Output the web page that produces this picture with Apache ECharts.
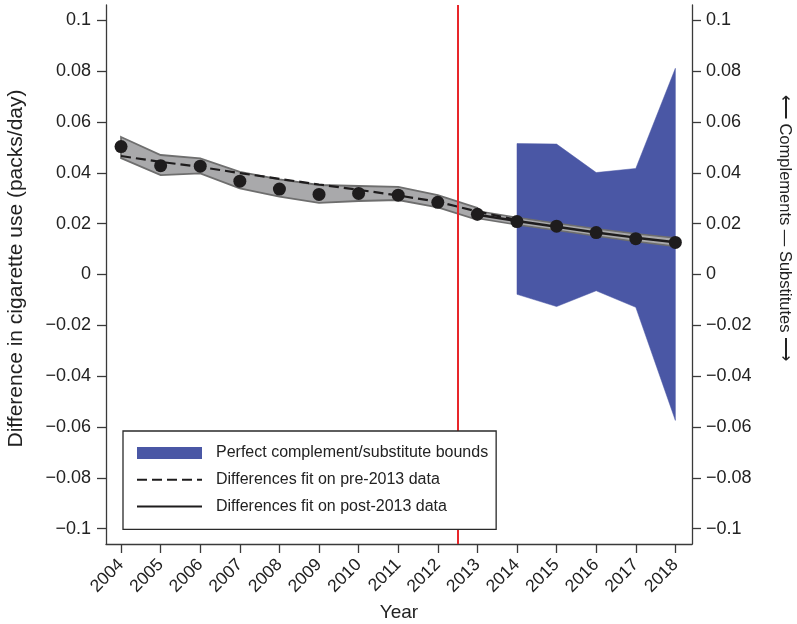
<!DOCTYPE html>
<html><head><meta charset="utf-8">
<script src="https://cdn.jsdelivr.net/npm/echarts@6/dist/echarts.min.js"></script>
<style>html,body{margin:0;padding:0;background:#fff}#c{width:797px;height:624px}</style>
</head><body><div id="c"></div>
<script>
// ---- data ----
const years = [2004, 2005, 2006, 2007, 2008, 2009, 2010, 2011, 2012, 2013, 2014, 2015, 2016, 2017, 2018];
const actualDiff = [0.0503, 0.0428, 0.0426, 0.0367, 0.0336, 0.0315, 0.0319, 0.0312, 0.0284, 0.0237, 0.0208, 0.0190, 0.0165, 0.0141, 0.0126];

const preFitYears = [2004, 2005, 2006, 2007, 2008, 2009, 2010, 2011, 2012, 2013, 2014];
const preFit = [0.0466, 0.0443, 0.0423, 0.0399, 0.0376, 0.0354, 0.0333, 0.0311, 0.0286, 0.0248, 0.0214];

const preBandYears = [2004, 2005, 2006, 2007, 2008, 2009, 2010, 2011, 2012, 2013];
const preBandUpper = [0.0541, 0.0470, 0.0457, 0.0404, 0.0374, 0.0352, 0.0348, 0.0345, 0.0312, 0.0262];
const preBandLower = [0.0458, 0.0391, 0.0398, 0.0339, 0.0306, 0.0282, 0.0289, 0.0293, 0.0264, 0.0215];

const postYears = [2013, 2014, 2015, 2016, 2017, 2018];
const postFit = [0.0235, 0.0210, 0.0188, 0.0165, 0.0145, 0.0127];
const postBandUpper = [0.0250, 0.0224, 0.0202, 0.0180, 0.0160, 0.0144];
const postBandLower = [0.0221, 0.0196, 0.0174, 0.0151, 0.0130, 0.0111];

const boundYears = [2014, 2015, 2016, 2017, 2018];
const boundUpper = [0.0515, 0.0513, 0.0401, 0.0417, 0.0811];
const boundLower = [-0.0078, -0.0126, -0.0064, -0.0129, -0.0574];

const yTicks = [-0.1, -0.08, -0.06, -0.04, -0.02, 0, 0.02, 0.04, 0.06, 0.08, 0.1];
const treatmentLine = 2012.5;

const NAME_BOUNDS = 'Perfect complement/substitute bounds';
const NAME_PRE = 'Differences fit on pre-2013 data';
const NAME_POST = 'Differences fit on post-2013 data';

// ---- styling ----
const FONT = '"Liberation Sans", Arial, Helvetica, sans-serif';
const TXT = '#222';
const AX = '#3a3a3a';
const BLUE = '#4a57a5';
const GREY_FILL = '#a9a9ab';
const GREY_LINE = '#6e6e6e';
const INK = '#1e1c1d';

function fmtY(v) {
  const r = Number(v.toFixed(3));
  if (r === 0) return '0';
  return (r < 0 ? '\u2212' : '') + String(Math.abs(r));
}

function band(name, xs, up, lo, fill, stroke, lw, z) {
  return {
    type: 'custom', name: name, z: z, silent: true, animation: false,
    xAxisIndex: 0, yAxisIndex: 0,
    data: xs.map((x, i) => [x, up[i], lo[i]]),
    encode: { x: 0, y: [1, 2] },
    renderItem: function (params, api) {
      if (params.dataIndex !== 0) return null;
      const pts = [];
      for (let i = 0; i < xs.length; i++) pts.push(api.coord([xs[i], up[i]]));
      for (let i = xs.length - 1; i >= 0; i--) pts.push(api.coord([xs[i], lo[i]]));
      return { type: 'polygon', shape: { points: pts },
        style: { fill: fill, stroke: stroke, lineWidth: lw, lineJoin: 'miter' } };
    }
  };
}

const yAxisBase = {
  type: 'value', min: -0.106, max: 0.106,
  splitLine: { show: false },
  axisLine: { show: true, onZero: false, lineStyle: { color: AX, width: 1.3 } },
  axisTick: { show: true, length: 9, customValues: yTicks, lineStyle: { color: AX, width: 1.3 } },
};

const chart = echarts.init(document.getElementById('c'), null, { renderer: 'canvas' });
chart.setOption({
  animation: false,
  backgroundColor: '#fff',
  textStyle: { fontFamily: FONT },
  grid: { left: 106, right: 105, top: 5, bottom: 80, containLabel: false, outerBoundsMode: 'none' },
  xAxis: {
    type: 'value', min: 2003.62, max: 2018.42,
    splitLine: { show: false },
    axisLine: { show: true, onZero: false, lineStyle: { color: AX, width: 1.3 } },
    axisTick: { show: true, length: 9, customValues: years, lineStyle: { color: AX, width: 1.3 } },
    axisLabel: { customValues: years, rotate: 45, margin: 18, padding: [12, 0, 0, 0], fontSize: 17.5, color: TXT, fontFamily: FONT,
      formatter: v => String(Math.round(v)) },
    name: 'Year', nameLocation: 'middle', nameGap: 53,
    nameTextStyle: { fontSize: 19, color: TXT, fontFamily: FONT }
  },
  yAxis: [
    Object.assign({}, yAxisBase, {
      position: 'left',
      axisLabel: { customValues: yTicks, margin: 15, fontSize: 18, color: TXT, fontFamily: FONT, formatter: fmtY },
      name: 'Difference in cigarette use (packs/day)', nameLocation: 'middle', nameGap: 79, nameRotate: 90,
      nameTextStyle: { fontSize: 21, color: TXT, fontFamily: FONT, padding: [0, 0, 0, 12] }
    }),
    Object.assign({}, yAxisBase, {
      position: 'right',
      axisLabel: { customValues: yTicks, margin: 14, fontSize: 18, color: TXT, fontFamily: FONT, formatter: fmtY }
    })
  ],
  legend: {
    orient: 'vertical', left: 123, top: 431,
    padding: [14, 8, 15, 13], itemGap: 10.7, itemWidth: 65, itemHeight: 12,
    backgroundColor: '#fff', borderColor: '#2a2a2a', borderWidth: 1.3, borderRadius: 0,
    textStyle: { fontFamily: FONT, fontSize: 16, color: TXT, padding: [0, 0, 0, 9], lineHeight: 16 },
    selectedMode: false, z: 10,
    data: [
      { name: NAME_BOUNDS, icon: 'rect', itemStyle: { color: BLUE } },
      { name: NAME_PRE, itemStyle: { opacity: 0 } },
      { name: NAME_POST, itemStyle: { opacity: 0 } }
    ]
  },
  graphic: [{
    type: 'text', x: 785, y: 228, rotation: -Math.PI / 2, z: 10,
    style: { text: '\u27F5 Complements \u2014 Substitutes \u27F6', fill: TXT,
      font: '16.5px ' + FONT, align: 'center', verticalAlign: 'middle' }
  }],
  series: [
    {
      type: 'line', name: 'treatment', z: 1, data: [], yAxisIndex: 0,
      markLine: { silent: true, symbol: ['none', 'none'], label: { show: false }, animation: false,
        lineStyle: { color: '#e8262a', width: 2, type: 'solid' },
        data: [{ xAxis: treatmentLine }] }
    },
    band(NAME_BOUNDS, boundYears, boundUpper, boundLower, BLUE, BLUE, 0.5, 2),
    band('preBand', preBandYears, preBandUpper, preBandLower, GREY_FILL, GREY_LINE, 1.8, 3),
    band('postBand', postYears, postBandUpper, postBandLower, GREY_FILL, GREY_LINE, 1.5, 3),
    {
      type: 'line', name: NAME_PRE, z: 4, symbol: 'none', yAxisIndex: 0,
      data: preFitYears.map((x, i) => [x, preFit[i]]),
      lineStyle: { color: INK, width: 2.2, type: [10, 5] },
      itemStyle: { color: INK }
    },
    {
      type: 'line', name: NAME_POST, z: 4, symbol: 'none', yAxisIndex: 0,
      data: postYears.map((x, i) => [x, postFit[i]]),
      lineStyle: { color: INK, width: 2.5, type: 'solid' },
      itemStyle: { color: INK }
    },
    {
      type: 'scatter', name: 'actual', z: 5, yAxisIndex: 0,
      symbol: 'circle', symbolSize: 13,
      data: years.map((x, i) => [x, actualDiff[i]]),
      itemStyle: { color: INK, opacity: 1 }
    }
  ]
});
</script>
</body></html>
